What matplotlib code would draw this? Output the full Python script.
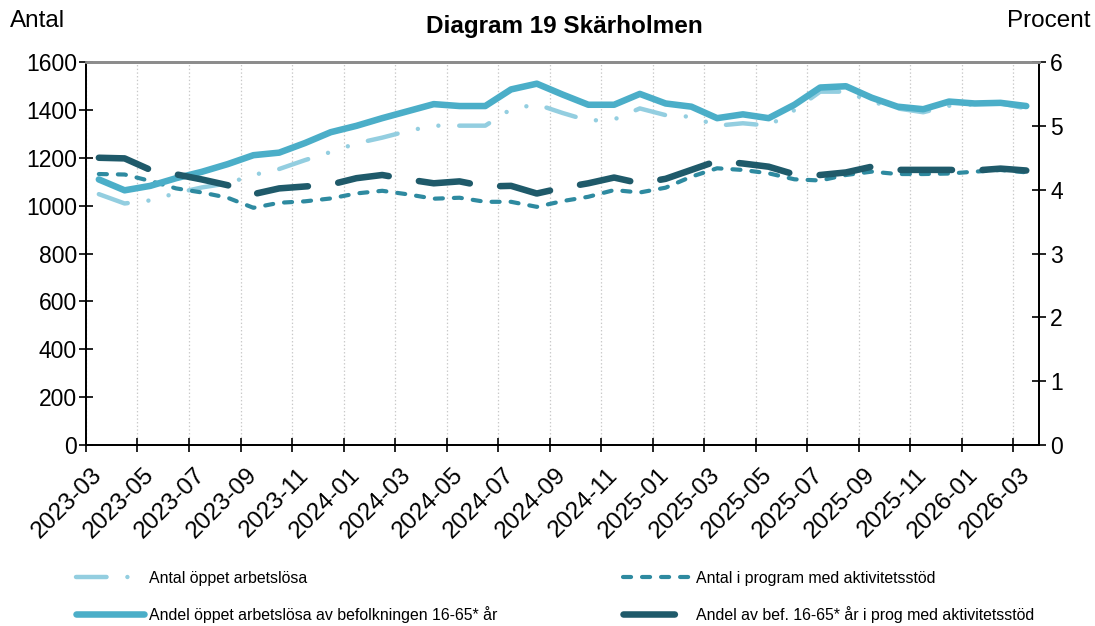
import matplotlib
matplotlib.use("Agg")
import matplotlib.pyplot as plt
import numpy as np

plt.rcParams['font.family'] = ['Liberation Sans', 'DejaVu Sans']
plt.rcParams['lines.scale_dashes'] = False

months = ["2023-03", "2023-04", "2023-05", "2023-06", "2023-07", "2023-08", "2023-09", "2023-10",
          "2023-11", "2023-12", "2024-01", "2024-02", "2024-03", "2024-04", "2024-05", "2024-06",
          "2024-07", "2024-08", "2024-09", "2024-10", "2024-11", "2024-12", "2025-01", "2025-02",
          "2025-03", "2025-04", "2025-05", "2025-06", "2025-07", "2025-08", "2025-09", "2025-10",
          "2025-11", "2025-12", "2026-01", "2026-02", "2026-03"]

antal_oppet = [1048, 1009, 1022, 1052, 1076, 1093, 1128, 1153, 1190, 1224, 1260, 1284, 1312,
               1334, 1334, 1334, 1403, 1423, 1387, 1355, 1360, 1406, 1378, 1371, 1334, 1344,
               1334, 1399, 1476, 1476, 1434, 1406, 1390, 1417, 1423, 1427, 1406]
antal_program = [1132, 1130, 1103, 1072, 1055, 1033, 991, 1012, 1018, 1030, 1051, 1062, 1047,
                 1029, 1033, 1016, 1016, 995, 1019, 1037, 1065, 1055, 1075, 1121, 1156, 1149,
                 1135, 1110, 1105, 1128, 1142, 1132, 1132, 1134, 1142, 1149, 1139]
andel_oppet = [4.16, 3.99, 4.06, 4.18, 4.28, 4.40, 4.54, 4.58, 4.73, 4.90, 5.00, 5.12, 5.23,
               5.34, 5.31, 5.31, 5.57, 5.66, 5.49, 5.33, 5.33, 5.50, 5.35, 5.30, 5.12, 5.18,
               5.12, 5.33, 5.60, 5.62, 5.44, 5.30, 5.26, 5.38, 5.35, 5.36, 5.31]
andel_program = [4.50, 4.49, 4.31, 4.24, 4.16, 4.07, 3.93, 4.02, 4.05, 4.08, 4.18, 4.23, 4.16,
                 4.10, 4.13, 4.05, 4.06, 3.94, 4.03, 4.10, 4.19, 4.10, 4.17, 4.31, 4.45, 4.41,
                 4.36, 4.24, 4.23, 4.27, 4.36, 4.31, 4.31, 4.31, 4.30, 4.33, 4.30]

labels = ["Antal öppet arbetslösa",
          "Andel öppet arbetslösa av befolkningen 16-65* år",
          "Antal i program med aktivitetsstöd",
          "Andel av bef. 16-65* år i prog med aktivitetsstöd"]

c_light = "#93CEE0"
c_solid = "#4BAEC8"
c_teal = "#2E8AA0"
c_dark = "#1F5A6A"

fig = plt.figure(figsize=(10.95, 6.26), dpi=100)
ax = fig.add_axes([0.0785, 0.289, 0.8705, 0.612])
ax2 = ax.twinx()

x = np.arange(len(months))

l1, = ax.plot(x, antal_oppet, color=c_light, lw=3.2, dashes=(22, 15, 0.01, 15, 0.01, 15),
              dash_capstyle='round', solid_joinstyle='round', dash_joinstyle='round')
l2, = ax.plot(x, antal_program, color=c_teal, lw=3.0, dashes=(5.8, 7.9),
              dash_capstyle='round', dash_joinstyle='round')
l3, = ax2.plot(x, andel_oppet, color=c_solid, lw=4.7, solid_capstyle='round',
               solid_joinstyle='round')
l4, = ax2.plot(x, andel_program, color=c_dark, lw=4.7, dashes=(37, 22),
               dash_capstyle='round', dash_joinstyle='round')

ax.set_xlim(-0.5, len(months) - 0.5)
ax.set_ylim(0, 1600)
ax2.set_ylim(0, 6)
ax.set_yticks(np.arange(0, 1601, 200))
ax2.set_yticks(np.arange(0, 7, 1))

ax.set_xticks(x[::2])
ax.set_xticklabels(months[::2], rotation=45, ha='right', va='center', rotation_mode='anchor')
ax.set_xticks(np.arange(-0.5, len(months) - 0.5, 2), minor=True)
ax.tick_params(axis='x', which='major', length=0, pad=19, labelsize=17.5)
ax.tick_params(axis='x', which='minor', length=10, direction='inout', width=1.2)
ax.grid(axis='x', which='minor', color='#C8C8C8', linestyle=':', linewidth=0.9)
ax.tick_params(axis='y', length=10, direction='inout', width=1.2, labelsize=16.5, pad=1.5)
ax2.tick_params(axis='y', length=10, direction='inout', width=1.2, labelsize=16.5, pad=3)

for a in (ax, ax2):
    a.spines['top'].set_color('#8C8C8C')
    a.spines['top'].set_linewidth(2)
    for s in ('left', 'right', 'bottom'):
        a.spines[s].set_color('black')
        a.spines[s].set_linewidth(1.3)

fig.text(0.515, 0.957, "Diagram 19 Skärholmen", ha='center', va='center',
         fontsize=17.5, fontweight='bold')
fig.text(0.009, 0.967, "Antal", ha='left', va='center', fontsize=17.5)
fig.text(0.996, 0.967, "Procent", ha='right', va='center', fontsize=17.5)

fig.legend([l1, l3, l2, l4], labels, ncol=2, loc='upper left',
           bbox_to_anchor=(0.064, 0.098), frameon=False, fontsize=11.4,
           handlelength=4.3, handletextpad=0.3, columnspacing=7.9,
           labelspacing=1.25, borderaxespad=0)

fig.savefig("out.png", dpi=100)
